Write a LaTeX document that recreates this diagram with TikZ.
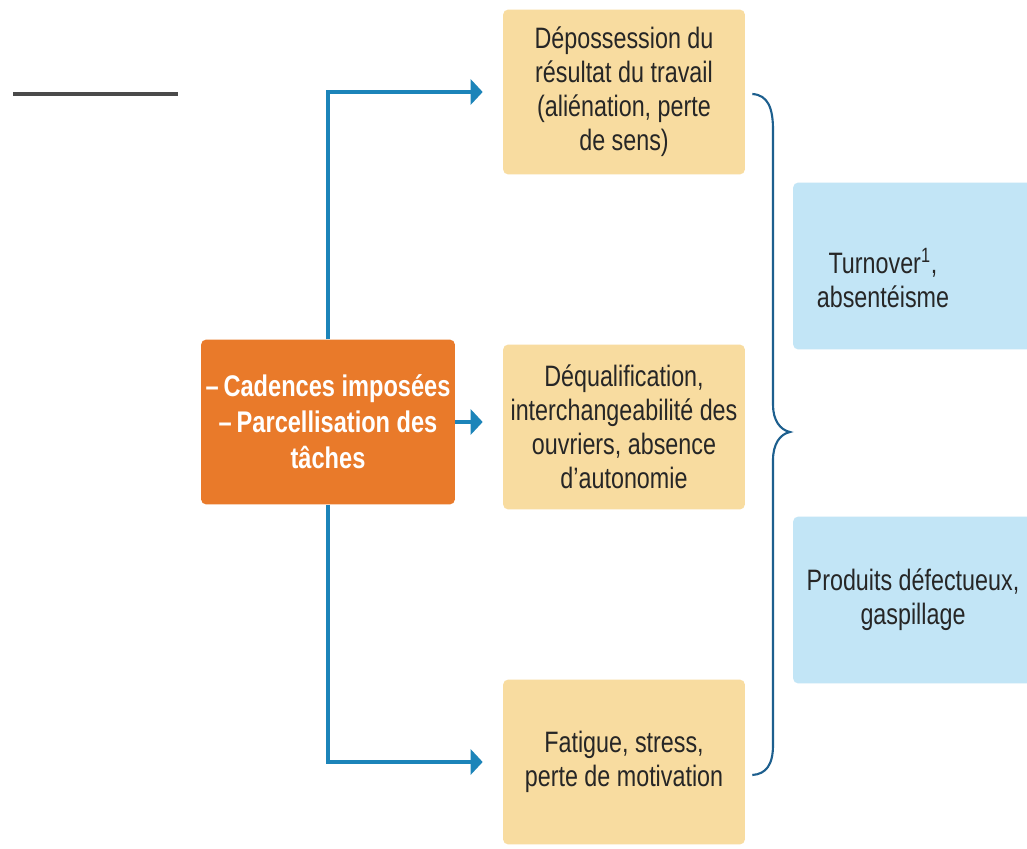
\documentclass[tikz,border=0pt]{standalone}
\usepackage{fontspec}
\setmainfont{Liberation Sans}[FakeStretch=0.79]
\usepackage{xcolor}
\usetikzlibrary{positioning, arrows.meta, calc}
\definecolor{boxorange}{HTML}{E97A2A}
\definecolor{boxsand}{HTML}{F8DCA0}
\definecolor{boxsky}{HTML}{C2E5F6}
\definecolor{linkblue}{HTML}{1C84B9}
\definecolor{bracenavy}{HTML}{1D5F8E}
\definecolor{rulegray}{HTML}{4A4A4A}

\tikzset{
  causebox/.style={fill=boxorange, rounded corners=3pt, minimum width=5.08cm, minimum height=3.3cm,
                   inner sep=0pt, text=white, align=center, font=\bfseries\fontsize{17}{20.5}\selectfont},
  effectbox/.style={fill=boxsand, rounded corners=3pt, minimum width=4.84cm, minimum height=3.3cm,
                    inner sep=0pt, text=black!85, align=center, font=\fontsize{16.8}{19.3}\selectfont},
  costbox/.style={fill=boxsky, rounded corners=3pt, minimum width=5.2cm, minimum height=3.34cm, inner sep=0pt},
  costtext/.style={text=black!85, align=center, font=\fontsize{16.8}{19.3}\selectfont},
  link/.style={linkblue, line width=2.2pt, -{Triangle[length=0.24cm, width=0.5cm]}, shorten >=0.4cm},
}

\begin{document}
\begin{tikzpicture}[x=0.02cm, y=-0.02cm]
    \clip (0,0) rectangle (1027,848);
    \fill[white] (0,0) rectangle (1027,848);

    % rule top left
    \draw[rulegray, line width=1.8pt] (13,94) -- (178,94);

    % cause
    \node[causebox] (cause) at (328,422) {--\,Cadences imposées\\--\,Parcellisation des\\tâches};

    % effects on the workers
    \node[effectbox] (ylw1) at (624,92) {Dépossession du\\résultat du travail\\(aliénation, perte\\de sens)};
    \node[effectbox] (ylw2) at (624,427) {Déqualification,\\interchangeabilité des\\ouvriers, absence\\d’autonomie};
    \node[effectbox] (ylw3) at (624,762) {Fatigue, stress,\\perte de motivation};

    % costs for the firm
    \node[costbox] (blu1) at (923,266) {};
    \node[costbox] (blu2) at (923,600) {};
    \node[costtext] (turnover) at (883,278) {Turnover\textsuperscript{1},\\absentéisme};
    \node[costtext] (defects) at (913,600) {Produits défectueux,\\gaspillage};

    % arrows
    \draw[link] (cause.north) |- (ylw1.west);
    \draw[link] (cause.east) -- (cause.east -| ylw2.west);
    \draw[link] (cause.south) |- (ylw3.west);

    % brace
    \coordinate (bTop) at ($(ylw1.east)+(7,2)$);
    \coordinate (bBot) at ($(ylw3.east)+(7,13)$);
    \coordinate (bTip) at (790,432);
    \draw[bracenavy, line width=1.2pt]
      (bTop) .. controls (768,95) and (773,108) .. (773,130) -- (773,405)
      .. controls (773,420) and (780,430) .. (bTip)
      .. controls (780,434) and (773,444) .. (773,460) -- (773,745)
      .. controls (773,765) and (766,774) .. (bBot);
\end{tikzpicture}
\end{document}
